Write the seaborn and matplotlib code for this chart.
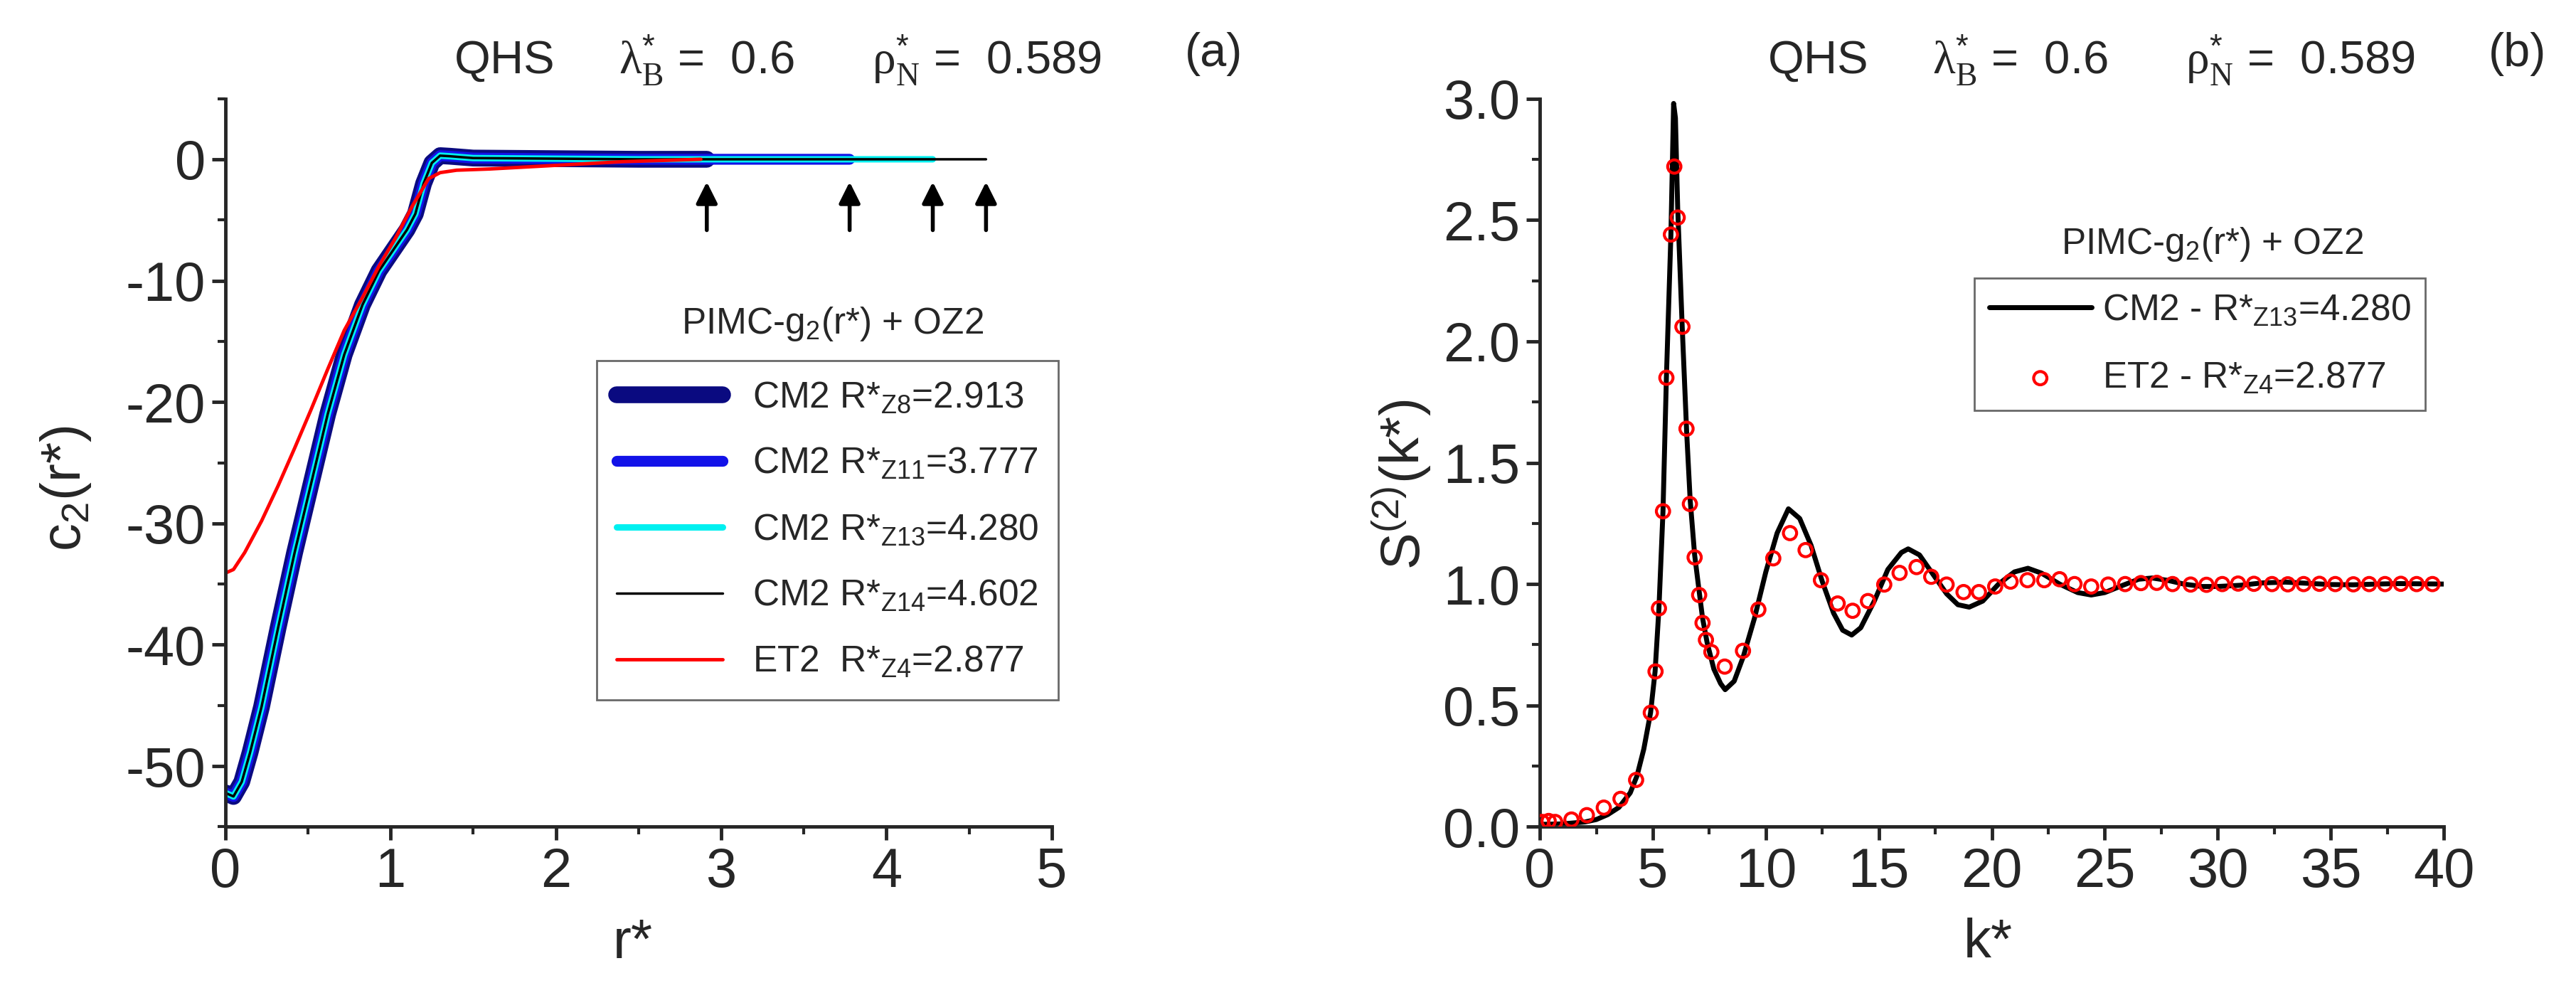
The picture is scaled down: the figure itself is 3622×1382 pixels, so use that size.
import numpy as np
import pandas as pd
import seaborn as sns
import matplotlib.pyplot as plt
from matplotlib.ticker import MultipleLocator

# ---- panel (a): direct correlation function c2(r*) ----
r_cm2 = [0.0, 0.05, 0.1, 0.15, 0.22, 0.32, 0.42, 0.52, 0.62, 0.72, 0.83, 0.93,
         1.0, 1.05, 1.1, 1.15, 1.2, 1.25, 1.3, 1.36, 1.5, 2.0, 2.5, 2.913,
         3.3, 3.777, 4.0, 4.28, 4.602]
c2_cm2 = [-52.2, -52.5, -51.3, -48.9, -45.1, -38.6, -32.4, -26.7, -21.0, -16.1, -12.0, -9.2,
          -7.8, -6.8, -5.8, -4.5, -2.0, -0.3, 0.3, 0.25, 0.1, 0.05, 0.0, 0.0,
          0.0, 0.0, 0.0, 0.0, 0.0]
R_cm2 = [2.913, 3.777, 4.280, 4.602]
cm2_labels = [r"CM2 R*$_{\mathrm{Z8}}$=2.913", r"CM2 R*$_{\mathrm{Z11}}$=3.777",
              r"CM2 R*$_{\mathrm{Z13}}$=4.280", r"CM2 R*$_{\mathrm{Z14}}$=4.602"]

r_et2 = [0.0, 0.05, 0.118, 0.22, 0.32, 0.42, 0.52, 0.62, 0.72, 0.83, 0.93, 1.03,
         1.13, 1.23, 1.3, 1.4, 1.6, 2.0, 2.4, 2.877]
c2_et2 = [-34.1, -33.8, -32.4, -29.8, -26.9, -23.8, -20.6, -17.3, -14.1, -11.4, -8.8, -6.5,
          -3.9, -1.6, -1.1, -0.9, -0.8, -0.5, -0.2, 0.0]

# ---- panel (b): structure factor S(k*) ----
k_cm2 = [0, 1, 2, 2.5, 3, 3.5, 4.0, 4.3, 4.6, 4.9, 5.1, 5.27, 5.45, 5.6, 5.8, 5.92,
         6.0, 6.1, 6.3, 6.5, 6.65, 6.85, 7.05, 7.2, 7.4, 7.7, 8.0, 8.2, 8.6, 9.0,
         9.5, 10.0, 10.5, 11.0, 11.5, 12.0, 12.5, 13.0, 13.4, 13.8, 14.2, 14.8,
         15.4, 16.0, 16.3, 16.8, 17.4, 18.0, 18.5, 19.0, 19.6, 20.3, 21.0, 21.6,
         22.2, 23.0, 23.8, 24.4, 25.0, 25.8, 26.5, 27.1, 27.8, 28.5, 29.3, 30.0,
         31, 32, 33, 34, 35, 36, 37, 38, 39, 40]
s_cm2 = [0.01, 0.012, 0.02, 0.03, 0.05, 0.08, 0.14, 0.21, 0.32, 0.47, 0.64, 0.90, 1.30,
         1.85, 2.44, 2.98, 2.92, 2.55, 2.06, 1.62, 1.35, 1.12, 0.97, 0.86, 0.76, 0.65,
         0.59, 0.565, 0.60, 0.70, 0.86, 1.05, 1.21, 1.31, 1.27, 1.16, 1.01, 0.88,
         0.81, 0.79, 0.82, 0.93, 1.06, 1.13, 1.145, 1.12, 1.04, 0.96, 0.915, 0.905,
         0.93, 1.0, 1.05, 1.065, 1.045, 1.0, 0.965, 0.955, 0.965, 0.995, 1.02, 1.025,
         1.015, 1.0, 0.99, 0.99, 0.995, 1.005, 1.008, 1.003, 0.998, 0.997, 1.0, 1.002,
         1.001, 1.0]

k_et2 = [0.1, 0.39, 0.68, 1.40, 2.08, 2.83, 3.57, 4.26, 4.91, 5.12, 5.27, 5.45, 5.60,
         5.80, 5.95, 6.10, 6.31, 6.49, 6.64, 6.85, 7.05, 7.20, 7.35, 7.59, 8.18, 8.99,
         9.67, 10.33, 11.07, 11.76, 12.44, 13.18, 13.84, 14.52, 15.24, 15.92, 16.67,
         17.32, 18.0, 18.75, 19.43, 20.15, 20.83, 21.58, 22.32, 23.0, 23.66, 24.4,
         25.15, 25.9, 26.6, 27.3, 28.0, 28.8, 29.5, 30.2, 30.9, 31.6, 32.4, 33.1,
         33.8, 34.5, 35.2, 36.0, 36.7, 37.4, 38.1, 38.8, 39.5]
s_et2 = [0.02, 0.024, 0.02, 0.03, 0.048, 0.079, 0.115, 0.193, 0.47, 0.64, 0.90, 1.30,
         1.85, 2.44, 2.72, 2.51, 2.06, 1.64, 1.33, 1.11, 0.955, 0.84, 0.77, 0.72,
         0.66, 0.725, 0.895, 1.106, 1.21, 1.14, 1.016, 0.92, 0.89, 0.93, 0.998, 1.046,
         1.07, 1.03, 0.998, 0.967, 0.967, 0.99, 1.01, 1.016, 1.016, 1.02, 1.0, 0.99,
         0.998, 1.0, 1.004, 1.005, 1.0, 0.998, 0.997, 1.0, 1.002, 1.001, 1.0, 0.999,
         1.0, 1.001, 1.0, 0.999, 1.0, 1.0, 1.001, 1.0, 1.0]

sns.set_style("ticks")
plt.rcParams['font.family'] = ['Liberation Sans', 'DejaVu Sans']
plt.rcParams['mathtext.fontset'] = 'custom'
plt.rcParams['mathtext.rm'] = 'Liberation Sans'
plt.rcParams['mathtext.it'] = 'Liberation Sans:italic'
plt.rcParams['mathtext.bf'] = 'Liberation Sans:bold'
plt.rcParams['mathtext.sf'] = 'Liberation Serif'
plt.rcParams['axes.unicode_minus'] = False

fig = plt.figure(figsize=(36.23, 13.82), dpi=100)
ax1 = fig.add_axes([0.0874, 0.1589, 0.3208, 0.7408])
ax2 = fig.add_axes([0.5976, 0.1589, 0.3508, 0.7408])

tick_fs = 56
lab_fs = 56
leg_fs = 37
title_fs = 47

# ---- panel (a) ----
df_cm2 = pd.DataFrame({"r": r_cm2, "c2": c2_cm2})
cm2_colors = ["#0a0a80", "#1212e8", "#00f0f0", "black"]
cm2_widths = [17, 11, 6.5, 2.5]
for R, lab, col, lw in zip(R_cm2, cm2_labels, cm2_colors, cm2_widths):
    sub = df_cm2[df_cm2["r"] <= R + 1e-9]
    sns.lineplot(data=sub, x="r", y="c2", ax=ax1, color=col, lw=lw, label=lab,
                 sort=False, estimator=None, solid_capstyle="round")
sns.lineplot(x=r_et2, y=c2_et2, ax=ax1, color="red", lw=3.5, label=r"ET2  R*$_{\mathrm{Z4}}$=2.877",
             sort=False, estimator=None)

for R in R_cm2:
    ax1.annotate("", xy=(R, -1.7), xytext=(R, -6.0),
                 arrowprops=dict(arrowstyle="-|>", color="black", lw=4, mutation_scale=45))

ax1.set_xlim(0, 5)
ax1.set_ylim(-55, 5)
ax1.xaxis.set_major_locator(MultipleLocator(1))
ax1.xaxis.set_minor_locator(MultipleLocator(0.5))
ax1.yaxis.set_minor_locator(MultipleLocator(5))
ax1.set_yticks([-50, -40, -30, -20, -10, 0])
ax1.set_xlabel("r*", fontsize=lab_fs)
ax1.set_ylabel(r"c$_2$(r*)", fontsize=lab_fs)
ax1.yaxis.set_label_coords(-0.16, 0.465)
ax1.xaxis.set_label_coords(0.493, -0.125)
ax1.legend(loc="lower right", bbox_to_anchor=(1.03, 0.149), fontsize=leg_fs,
           frameon=True, fancybox=False, edgecolor="#444444", handlelength=2.9,
           labelspacing=0.85, borderpad=0.55, handletextpad=0.8)
ax1.legend_.get_frame().set_linewidth(2)
ax1.text(0.735, 0.69, r"PIMC-g$_2$(r*) + OZ2", transform=ax1.transAxes,
         ha="center", va="center", fontsize=leg_fs)

# ---- panel (b) ----
sns.lineplot(x=k_cm2, y=s_cm2, ax=ax2, color="black", lw=5,
             label=r"CM2 - R*$_{\mathrm{Z13}}$=4.280", sort=False, estimator=None)
sns.scatterplot(x=k_et2, y=s_et2, ax=ax2, marker="o", s=180, facecolor="none",
                edgecolor="red", linewidth=3, label=r"ET2 - R*$_{\mathrm{Z4}}$=2.877", zorder=3)

ax2.set_xlim(0, 40)
ax2.set_ylim(0, 3.0)
ax2.xaxis.set_major_locator(MultipleLocator(5))
ax2.xaxis.set_minor_locator(MultipleLocator(2.5))
ax2.yaxis.set_major_locator(MultipleLocator(0.5))
ax2.yaxis.set_minor_locator(MultipleLocator(0.25))
ax2.yaxis.set_major_formatter(plt.FormatStrFormatter("%.1f"))
ax2.set_xlabel("k*", fontsize=lab_fs)
ax2.set_ylabel(r"S$^{(2)}$(k*)", fontsize=lab_fs)
ax2.yaxis.set_label_coords(-0.118, 0.47)
ax2.xaxis.set_label_coords(0.496, -0.125)
ax2.legend(loc="lower right", bbox_to_anchor=(1.0, 0.547), fontsize=leg_fs,
           frameon=True, fancybox=False, edgecolor="#444444", handlelength=2.8,
           labelspacing=0.9, borderpad=0.4, handletextpad=0.3)
ax2.legend_.get_frame().set_linewidth(2)
ax2.text(0.744, 0.80, r"PIMC-g$_2$(r*) + OZ2", transform=ax2.transAxes,
         ha="center", va="center", fontsize=leg_fs)

for ax in (ax1, ax2):
    sns.despine(ax=ax)
    ax.spines["left"].set_linewidth(3.5)
    ax.spines["bottom"].set_linewidth(3.5)
    ax.tick_params(which="major", direction="out", length=14, width=3.5,
                   labelsize=tick_fs, pad=6)
    ax.tick_params(which="minor", direction="out", length=8, width=3)

title = (r"QHS     $\mathsf{\lambda}^{*}_{\mathsf{B}}$ =  0.6      "
         r"$\mathsf{\rho}^{*}_{\mathsf{N}}$ =  0.589")
fig.text(0.176, 0.938, title, ha="left", va="center", fontsize=title_fs)
fig.text(0.471, 0.945, "(a)", ha="center", va="center", fontsize=48)
fig.text(0.686, 0.938, title, ha="left", va="center", fontsize=title_fs)
fig.text(0.977, 0.945, "(b)", ha="center", va="center", fontsize=48)

fig.savefig("out.png", dpi=100)
